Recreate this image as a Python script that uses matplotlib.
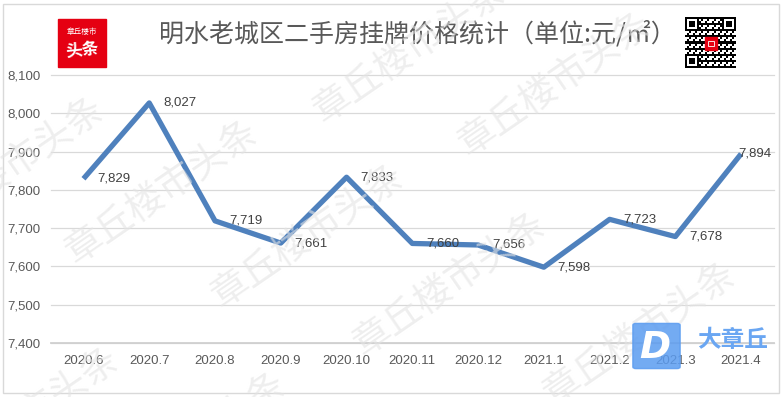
import matplotlib
matplotlib.use("Agg")
import matplotlib.pyplot as plt
import numpy as np
from matplotlib.patches import Rectangle, FancyBboxPatch

# 数据
months = ["2020.6", "2020.7", "2020.8", "2020.9", "2020.10", "2020.11",
          "2020.12", "2021.1", "2021.2", "2021.3", "2021.4"]
prices = [7829, 8027, 7719, 7661, 7833, 7660, 7656, 7598, 7723, 7678, 7894]
y_ticks = [7400, 7500, 7600, 7700, 7800, 7900, 8000, 8100]
title = "明水老城区二手房挂牌价格统计（单位:元/㎡）"
watermark = "章丘楼市头条"

W, H = 782, 397
plt.rcParams['font.family'] = ['Noto Sans CJK SC', 'DejaVu Sans']


def fx(x):
    return x / W


def fy(y):
    return 1 - y / H


fig = plt.figure(figsize=(W / 100, H / 100), dpi=100)
fig.patch.set_facecolor('white')

# 外框
fig.patches.append(Rectangle((fx(3), fy(393)), fx(779) - fx(3), fy(4) - fy(393),
                             transform=fig.transFigure, fill=False,
                             edgecolor='#d9d9d9', lw=1))

# 绘图区
left, right, top, bottom = 50.6, 774, 75, 343
ax = fig.add_axes([fx(left), fy(bottom), fx(right - left), (bottom - top) / H])
x = np.arange(len(months))
ax.plot(x, prices, color='#4f81bd', lw=3.8, solid_joinstyle='round',
        solid_capstyle='butt', zorder=3)

for i, v in enumerate(prices):
    dx = -2 if i == len(prices) - 1 else 10
    ax.annotate(f"{v:,}", (x[i], v), xytext=(dx, 0), textcoords='offset points',
                ha='left', va='center', fontsize=9.5, color='#404040',
                family=['Liberation Sans', 'DejaVu Sans'], zorder=4)

ax.set_xlim(-0.5, len(months) - 0.5)
ax.set_ylim(7400, 8100)
ax.set_yticks(y_ticks)
ax.set_yticklabels([f"{t:,}" for t in y_ticks])
ax.set_xticks(x)
ax.set_xticklabels(months)
for lab in ax.get_xticklabels() + ax.get_yticklabels():
    lab.set_family(['Liberation Sans', 'DejaVu Sans'])
    lab.set_fontsize(9.5)
    lab.set_color('#595959')
ax.tick_params(axis='both', length=0)
ax.tick_params(axis='y', pad=7.5)
ax.tick_params(axis='x', pad=9)
ax.grid(axis='y', color='#d9d9d9', lw=0.9)
for gl in ax.get_ygridlines():
    gl.set_clip_on(False)
ax.set_axisbelow(True)
for s in ['top', 'right', 'left']:
    ax.spines[s].set_visible(False)
ax.spines['bottom'].set_color('#d0d0d0')
ax.spines['bottom'].set_linewidth(1.3)
ax.set_facecolor('none')

# 标题
fig.text(fx(417), fy(34), title, ha='center', va='center', fontsize=18,
         color='#595959')

# 左上红色标志
fig.patches.append(Rectangle((fx(58), fy(67)), fx(48), 48 / H,
                             transform=fig.transFigure, color='#e50012', zorder=5))
fig.text(fx(82), fy(32), "章丘楼市", ha='center', va='center', fontsize=5.5,
         color='white', zorder=6)
fig.text(fx(82), fy(50), "头条", ha='center', va='center', fontsize=12,
         color='white', weight='bold', rotation=6, zorder=6)

# 右上二维码
qax = fig.add_axes([fx(683), fy(68), fx(54), 51 / H])
n = 25
qr = np.zeros((n, n))
ii, jj = np.mgrid[0:n, 0:n]
qr[((ii * ii + jj * 3 + ii * jj) % 3) == 0] = 1
for (r0, c0) in [(0, 0), (0, n - 7), (n - 7, 0)]:
    qr[r0:r0 + 7, c0:c0 + 7] = 1
    qr[r0 + 1:r0 + 6, c0 + 1:c0 + 6] = 0
    qr[r0 + 2:r0 + 5, c0 + 2:c0 + 5] = 1
qax.imshow(1 - qr, cmap='gray', interpolation='nearest', vmin=0, vmax=1)
qax.add_patch(Rectangle((9.5, 9.5), 6, 6, color='#e50012'))
qax.add_patch(Rectangle((10.8, 11.3), 3.4, 2.4, fill=False, edgecolor='white', lw=0.6))
qax.axis('off')

# 水印
wm_centers = [(8, 170), (162, 193), (308, 237), (450, 285), (640, 335),
              (410, 52), (555, 85), (23, 420), (190, 445)]
for cx, cy in wm_centers:
    fig.text(fx(cx), fy(cy), watermark, ha='center', va='center', fontsize=27,
             color='#e4e4e4', alpha=0.6, rotation=34.5, rotation_mode='anchor',
             zorder=10)

# 右下大章丘标志
fig.patches.append(FancyBboxPatch((fx(636), fy(367)), fx(41), 42 / H,
                                  boxstyle="round,pad=0.004", transform=fig.transFigure,
                                  color='#5b9cf0', alpha=0.85, zorder=11))
fig.text(fx(655), fy(348), "D", ha='center', va='center', fontsize=27,
         color='white', weight='bold', style='italic', family='DejaVu Sans', zorder=12)
fig.text(fx(733), fy(340), "大章丘", ha='center', va='center', fontsize=17,
         color='#6aa6f2', weight='bold', zorder=12)

fig.savefig("out.png", dpi=100)
